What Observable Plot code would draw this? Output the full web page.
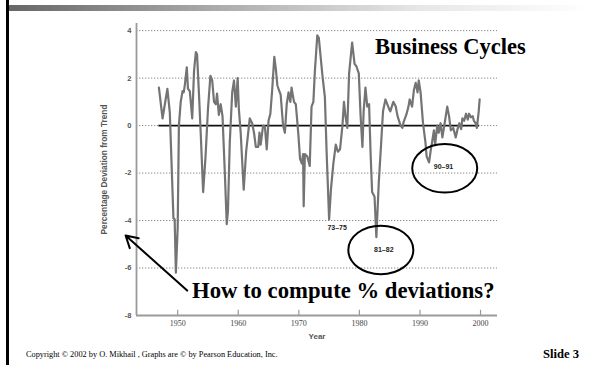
<!DOCTYPE html>
<html>
<head>
<meta charset="utf-8">
<script src="https://cdn.jsdelivr.net/npm/d3@7"></script>
<script src="https://cdn.jsdelivr.net/npm/@observablehq/plot@0.6"></script>
<style>
  html, body { margin: 0; padding: 0; background: #fff; }
  #slide { position: relative; width: 592px; height: 365px; overflow: hidden; background: #fff; }
  #topbar { position: absolute; left: 8px; top: 5px; width: 584px; height: 6px;
            background: linear-gradient(to right, #666 0%, #aaa 35%, #e6e6e6 70%, #fff 100%); }
  #leftbar { position: absolute; left: 6px; top: 0; width: 2.5px; height: 365px; background: #000; }
  #chart { position: absolute; left: 0; top: 0; }
  .slidetext { position: absolute; font-family: "Liberation Serif", "Times New Roman", serif; color: #000; white-space: nowrap; }
  #title { left: 375px; top: 36px; font-size: 22.5px; font-weight: bold; line-height: 1; }
  #copyright { left: 26px; top: 351px; font-size: 8.3px; line-height: 1; }
  #slideno { left: 543px; top: 348px; font-size: 12.6px; font-weight: bold; line-height: 1; }
</style>
</head>
<body>
<div id="slide">
  <div id="chart"></div>
  <div id="topbar"></div>
  <div id="leftbar"></div>
  <div id="title" class="slidetext">Business Cycles</div>
  <div id="copyright" class="slidetext">Copyright © 2002 by O. Mikhail , Graphs are © by Pearson Education, Inc.</div>
  <div id="slideno" class="slidetext">Slide 3</div>
</div>
<script>
const years = [
  1946.9, 1947.5, 1948.3, 1948.7, 1949.3, 1949.5, 1949.7, 1950.0, 1950.2, 1950.5,
  1950.8, 1951.0, 1951.2, 1951.5, 1951.7, 1952.0, 1952.4, 1952.7, 1953.0, 1953.2,
  1953.5, 1953.8, 1954.2, 1954.6, 1955.0, 1955.4, 1955.7, 1956.0, 1956.3, 1956.5,
  1956.8, 1957.1, 1957.4, 1957.8, 1958.1, 1958.3, 1958.6, 1959.0, 1959.3, 1959.6,
  1959.9, 1960.1, 1960.4, 1960.9, 1961.3, 1961.9, 1962.3, 1962.6, 1962.9, 1963.3,
  1963.5, 1963.7, 1964.1, 1964.4, 1964.7, 1965.0, 1965.3, 1965.6, 1965.95, 1966.2,
  1966.45, 1966.7, 1967.0, 1967.4, 1967.7, 1968.0, 1968.3, 1968.6, 1968.8, 1969.2,
  1969.5, 1969.9, 1970.2, 1970.5, 1970.7, 1970.8, 1971.0, 1971.4, 1971.8, 1972.1,
  1972.4, 1972.65, 1973.05, 1973.3, 1973.6, 1973.9, 1974.3, 1974.6, 1975.0, 1975.3,
  1975.7, 1976.1, 1976.45, 1976.8, 1977.2, 1977.45, 1977.7, 1978.0, 1978.3, 1978.8,
  1979.2, 1979.5, 1979.9, 1980.2, 1980.5, 1980.7, 1981.0, 1981.3, 1981.6, 1981.85,
  1982.1, 1982.5, 1982.8, 1983.2, 1983.6, 1983.9, 1984.3, 1984.6, 1984.9, 1985.1,
  1985.6, 1986.0, 1986.3, 1986.8, 1987.1, 1987.3, 1987.8, 1988.1, 1988.3, 1988.7,
  1989.0, 1989.3, 1989.6, 1989.8, 1990.1, 1990.5, 1990.9, 1991.1, 1991.5, 1991.8,
  1992.0, 1992.3, 1992.5, 1992.85, 1993.1, 1993.4, 1993.7, 1994.2, 1994.5, 1994.8,
  1995.1, 1995.5, 1995.9, 1996.2, 1996.5, 1996.8, 1997.0, 1997.3, 1997.6, 1997.9,
  1998.1, 1998.4, 1998.7, 1998.9, 1999.2, 1999.4, 1999.7, 1999.85
];
const deviation = [
  1.6, 0.3, 1.55, 0.55, -3.9, -3.95, -6.2, -4.3, 0.0, 1.0,
  1.45, 1.4, 1.75, 2.45, 1.55, 1.45, 0.3, 2.3, 3.1, 3.0,
  1.4, -0.3, -2.8, -1.3, 0.7, 2.1, 1.9, 1.0, 0.9, 1.35,
  0.45, 0.9, 0.4, -2.1, -4.15, -3.6, -0.7, 1.4, 1.9, 0.8,
  2.0, 0.7, -0.3, -2.7, -1.1, 0.3, 0.1, -0.3, -0.9, -0.9,
  -0.3, -0.8, 0.0, -0.05, -1.0, 0.2, 0.5, 1.5, 2.9, 2.4,
  1.7, 1.5, 1.3, 0.0, -0.3, 0.9, 1.4, 1.0, 1.6, 1.0,
  0.9, -0.3, -1.4, -1.6, -1.2, -3.4, -1.2, -1.3, -1.7, 0.8,
  1.0, 2.3, 3.8, 3.7, 2.9, 2.1, 1.2, -1.2, -3.95, -2.7,
  -1.6, -0.8, -1.1, -1.0, 0.0, 1.0, 0.4, -0.1, 2.2, 3.5,
  2.6, 2.5, 2.2, 0.4, -0.9, 0.6, 1.6, 0.8, 0.9, -1.2,
  -2.8, -3.0, -4.7, -2.4, -0.7, 0.6, 1.1, 0.9, 0.7, 0.6,
  1.0, 0.8, 0.4, 0.0, -0.1, 0.15, 0.5, 0.8, 1.1, 0.8,
  1.5, 1.8, 1.4, 1.9, 1.4, 0.1, -0.7, -1.3, -1.55, -1.0,
  -0.7, -0.2, -0.8, 0.0, -0.3, 0.1, -0.5, 0.3, 0.8, 0.4,
  -0.2, -0.1, -0.5, -0.15, 0.1, -0.15, 0.3, 0.2, 0.5, 0.25,
  0.5, 0.35, 0.4, 0.2, 0.1, -0.1, 0.6, 1.1
];

const xTicks = [1950, 1960, 1970, 1980, 1990, 2000];
const yTicks = [4, 2, 0, -2, -4, -6, -8];
const gridLevels = [4, 2, 0, -2, -4, -6];

// Recession annotations (labels placed in data units)
const recessionLabels = ["73–75", "81–82", "90–91"];
const recessionLabelYear = [1976.33, 1984.03, 1993.89];
const recessionLabelValue = [-4.31, -5.22, -1.73];
// Circled recessions (ellipse centres, data units)
const circleYear = [1983.62, 1994.17];
const circleValue = [-5.26, -1.82];

// Question with its arrow
const questionText = ["How to compute % deviations?"];
const questionAt = {year: 1952.36, value: -6.97};
const arrowFrom = {year: 1951.57, value: -6.95};
const arrowTo = {year: 1941.4, value: -4.63};

const series = years.map((year, i) => ({year, value: deviation[i]}));
const xDomain = [1943.2, 2002.8];
const sans = "'Liberation Sans', Arial, sans-serif";
const serif = "'Liberation Serif', 'Times New Roman', serif";

const chart = Plot.plot({
  width: 592,
  height: 365,
  marginLeft: 136,
  marginRight: 95,
  marginTop: 23,
  marginBottom: 50,
  x: {domain: xDomain},
  y: {domain: [-8, 4.3]},
  style: {background: "transparent", overflow: "visible"},
  marks: [
    Plot.ruleY(gridLevels, {stroke: "#8a8a8a", strokeWidth: 1, strokeDasharray: "1.3,1.7"}),
    Plot.ruleY([0], {x1: years[0], x2: years[years.length - 1], stroke: "#111", strokeWidth: 1.6}),
    Plot.ruleX([xDomain[0]], {stroke: "#9a9a9a", strokeWidth: 1.8}),
    Plot.ruleY([-8], {stroke: "#9a9a9a", strokeWidth: 1.8}),
    Plot.ruleX(xTicks, {y1: -8, y2: -7.78, stroke: "#9a9a9a", strokeWidth: 1.2}),
    Plot.axisX({ticks: xTicks, tickSize: 0, tickPadding: 5, label: null,
      tickFormat: d => String(d), fontFamily: serif, fontSize: 8, fill: "#444"}),
    Plot.axisY({ticks: yTicks, tickSize: 0, tickPadding: 5, label: null,
      tickFormat: d => String(d), fontFamily: sans, fontSize: 7.5, fontWeight: "bold", fill: "#555"}),
    Plot.text(["Percentage Deviation from Trend"], {frameAnchor: "left", textAnchor: "middle",
      dx: -32, rotate: -90, fontFamily: sans, fontSize: 8.3, fontWeight: "bold", fill: "#555"}),
    Plot.text(["Year"], {frameAnchor: "bottom", dy: 23, fontFamily: sans, fontSize: 8,
      fontWeight: "bold", fill: "#555"}),
    Plot.line(series, {x: "year", y: "value", stroke: "#747474", strokeWidth: 2.2,
      strokeLinejoin: "round"}),
    Plot.text(recessionLabels, {x: (d, i) => recessionLabelYear[i], y: (d, i) => recessionLabelValue[i],
      text: d => d, fontFamily: sans, fontSize: 7, fontWeight: "bold", fill: "#222"}),
    Plot.arrow([0], {x1: () => arrowFrom.year, y1: () => arrowFrom.value,
      x2: () => arrowTo.year, y2: () => arrowTo.value, stroke: "#000", strokeWidth: 2,
      headLength: 10}),
    Plot.text(questionText, {x: () => questionAt.year, y: () => questionAt.value, text: d => d,
      textAnchor: "start", fontFamily: serif, fontSize: 22.7, fontWeight: "bold", fill: "#000"})
  ]
});

// Ellipses around the circled recessions, positioned through the plot's scales
const sx = chart.scale("x"), sy = chart.scale("y");
d3.select(chart).append("g")
  .selectAll("ellipse")
  .data(circleYear.map((y, i) => ({year: y, value: circleValue[i]})))
  .join("ellipse")
  .attr("cx", d => sx.apply(d.year))
  .attr("cy", d => sy.apply(d.value))
  .attr("rx", 32.5)
  .attr("ry", 24.3)
  .attr("fill", "none")
  .attr("stroke", "#000")
  .attr("stroke-width", 2);

document.getElementById("chart").appendChild(chart);
</script>
</body>
</html>
